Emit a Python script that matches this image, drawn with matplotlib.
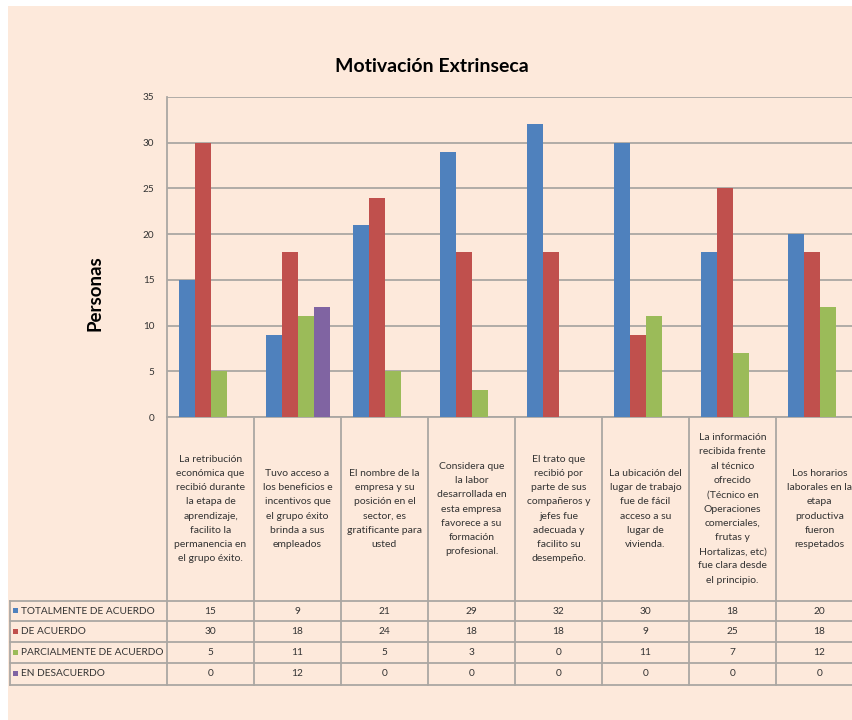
import numpy as np
import matplotlib
matplotlib.use("Agg")
import matplotlib.pyplot as plt
from matplotlib.patches import Rectangle

plt.rcParams['font.family'] = ['Lato', 'DejaVu Sans']

# ---- data ----
categories = [
    "La retribución\neconómica que\nrecibió durante\nla etapa de\naprendizaje,\nfacilito la\npermanencia en\nel grupo éxito.",
    "Tuvo acceso a\nlos beneficios e\nincentivos que\nel grupo éxito\nbrinda a sus\nempleados",
    "El nombre de la\nempresa y su\nposición en el\nsector, es\ngratificante para\nusted",
    "Considera que\nla labor\ndesarrollada en\nesta empresa\nfavorece a su\nformación\nprofesional.",
    "El trato que\nrecibió por\nparte de sus\ncompañeros y\njefes fue\nadecuada y\nfacilito su\ndesempeño.",
    "La ubicación del\nlugar de trabajo\nfue de fácil\nacceso a su\nlugar de\nvivienda.",
    "La información\nrecibida frente\nal técnico\nofrecido\n(Técnico en\nOperaciones\ncomerciales,\nfrutas y\nHortalizas, etc)\nfue clara desde\nel principio.",
    "Los horarios\nlaborales en la\netapa\nproductiva\nfueron\nrespetados",
]
series_names = ["TOTALMENTE DE ACUERDO", "DE ACUERDO",
                "PARCIALMENTE DE ACUERDO", "EN DESACUERDO"]
totalmente = [15, 9, 21, 29, 32, 30, 18, 20]
de_acuerdo = [30, 18, 24, 18, 18, 9, 25, 18]
parcialmente = [5, 11, 5, 3, 0, 11, 7, 12]
desacuerdo = [0, 12, 0, 0, 0, 0, 0, 0]
series = [totalmente, de_acuerdo, parcialmente, desacuerdo]
colors = ["#4F81BD", "#C0504D", "#9BBB59", "#8064A2"]
y_ticks = [0, 5, 10, 15, 20, 25, 30, 35]

# ---- layout (pixels) ----
W, H = 852, 720
BG = "#FDE9DB"
GRID = "#ABA7A3"
TXT = "#333333"
plot_left, col_w = 167, 87
plot_top, plot_bottom = 97, 417
row_lines = [601, 621, 642, 663, 685]
table_left = 10

fig = plt.figure(figsize=(W / 100, H / 100), dpi=100, facecolor="white")

# overlay in pixel coordinates for the background and the data table
ov = fig.add_axes([0, 0, 1, 1], zorder=0)
ov.set_xlim(0, W)
ov.set_ylim(H, 0)
ov.axis("off")
ov.add_patch(Rectangle((8, 6), W, H, facecolor=BG, edgecolor="none"))

n = len(categories)
ax = fig.add_axes([plot_left / W, 1 - plot_bottom / H,
                   n * col_w / W, (plot_bottom - plot_top) / H], zorder=2)
ax.patch.set_visible(False)

x = np.arange(n)
bw = 16 / col_w
offsets = (np.arange(len(series)) - 1.5) * bw
for vals, c, off, name in zip(series, colors, offsets, series_names):
    ax.bar(x + off, vals, width=bw, color=c, label=name, zorder=3)

ax.set_xlim(-0.5, n - 0.5)
ax.set_ylim(0, 35)
ax.set_yticks(y_ticks)
ax.set_xticks([])
ax.grid(axis="y", color=GRID, lw=1.3, zorder=0)
ax.set_axisbelow(True)
for s in ["top", "right"]:
    ax.spines[s].set_visible(False)
for s in ["left", "bottom"]:
    ax.spines[s].set_color(GRID)
    ax.spines[s].set_linewidth(1.3)
ax.tick_params(axis="y", length=0, pad=9, labelsize=7.2, labelcolor=TXT)

fig.text(95 / W, 1 - 293 / H, "Personas", rotation=90, ha="center",
         va="center", fontsize=13.5, fontweight="bold", color="black")
fig.text(432 / W, 1 - 67 / H, "Motivación Extrinseca", ha="center",
         va="center", fontsize=14, fontweight="bold", color="black")

# ---- data table ----
right = plot_left + n * col_w
for i in range(n + 1):
    xv = plot_left + i * col_w
    ov.plot([xv, xv], [plot_bottom, row_lines[-1]], color=GRID, lw=1.3,
            zorder=1, clip_on=False)
ov.plot([table_left, table_left], [row_lines[0], row_lines[-1]], color=GRID,
        lw=1.3, zorder=1)
for yv in row_lines:
    ov.plot([table_left, right], [yv, yv], color=GRID, lw=1.3, zorder=1,
            clip_on=False)

for i, label in enumerate(categories):
    cx = plot_left + (i + 0.5) * col_w
    ov.text(cx, (plot_bottom + row_lines[0]) / 2, label, ha="center",
            va="center", fontsize=7.5, linespacing=1.75, color=TXT,
            multialignment="center", zorder=2)

for r, (name, vals, c) in enumerate(zip(series_names, series, colors)):
    cy = (row_lines[r] + row_lines[r + 1]) / 2
    ov.add_patch(Rectangle((13, cy - 3), 5, 5, facecolor=c, edgecolor="none"))
    ov.text(21, cy, name, ha="left", va="center", fontsize=7.3, color=TXT)
    for i, v in enumerate(vals):
        cx = plot_left + (i + 0.5) * col_w
        ov.text(cx, cy, str(v), ha="center", va="center", fontsize=7.3,
                color=TXT)

fig.savefig("out.png", dpi=100, facecolor="white")
